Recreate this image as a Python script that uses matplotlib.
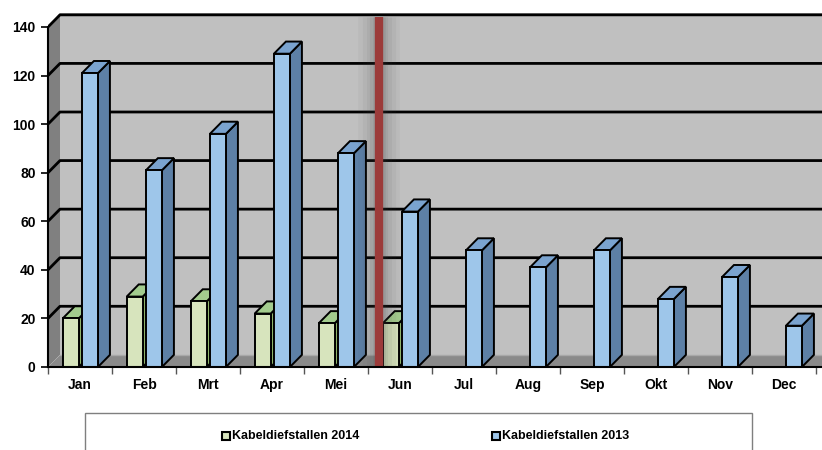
import matplotlib.pyplot as plt
from matplotlib.patches import Polygon, Rectangle

# --- data ---
months = ['Jan', 'Feb', 'Mrt', 'Apr', 'Mei', 'Jun', 'Jul', 'Aug', 'Sep', 'Okt', 'Nov', 'Dec']
diefstal_2014 = [20, 29, 27, 22, 18, 18]
diefstal_2013 = [121, 81, 96, 129, 88, 64, 48, 41, 48, 28, 37, 17]
y_ticks = [0, 20, 40, 60, 80, 100, 120, 140]
series_labels = ['Kabeldiefstallen 2014', 'Kabeldiefstallen 2013']

plt.rcParams['font.family'] = ['Liberation Sans Narrow', 'Liberation Sans', 'DejaVu Sans']

W, H = 822, 450
fig = plt.figure(figsize=(W / 100, H / 100), dpi=100)

# axes: left edge at pixel 48, zero line at 367, wall top at 13
x_right = (822 - 48) / 64
y_top = 140 + 14 / 2.43
ax = fig.add_axes([48 / W, 83 / H, (W - 48) / W, (437 - 83) / H])
ax.set_xlim(0, x_right)
ax.set_ylim(0, y_top)

dx, dy = 0.1875, 5.0  # 3d depth offset

# walls and floor
ax.add_patch(Polygon([(dx, dy), (x_right, dy), (x_right, y_top), (dx, y_top)],
                     closed=True, fc='#c0c0c0', ec='none', zorder=1))
ax.add_patch(Polygon([(0, 0), (dx, dy), (dx, y_top), (0, 140)],
                     closed=True, fc='#808080', ec='none', zorder=1))
ax.add_patch(Polygon([(0, 0), (x_right, 0), (x_right, dy), (dx, dy)],
                     closed=True, fc='#8a8a8a', ec='none', zorder=1))
ax.plot([dx, x_right], [dy, dy], color='#a8a8a8', lw=1, zorder=1.5)

for v in y_ticks[1:]:
    ax.plot([0, dx, x_right], [v, v + dy, v + dy], color='black', lw=2,
            zorder=2, solid_capstyle='butt')


def bar3d(x0, w, h, front, side, top):
    ax.add_patch(Polygon([(x0 + w, 0), (x0 + w + dx, dy), (x0 + w + dx, h + dy), (x0 + w, h)],
                         closed=True, fc=side, ec='black', lw=1.4, zorder=3))
    ax.add_patch(Polygon([(x0, h), (x0 + dx, h + dy), (x0 + w + dx, h + dy), (x0 + w, h)],
                         closed=True, fc=top, ec='black', lw=1.4, zorder=3))
    ax.add_patch(Rectangle((x0, 0), w, h, fc=front, ec='black', lw=1.4, zorder=3))


bw = 0.25
for i, v in enumerate(diefstal_2014):
    bar3d(i + 0.23, bw, v, '#d7e4bd', '#8fb46a', '#a3cc8e')
for i, v in enumerate(diefstal_2013):
    bar3d(i + 0.53, bw, v, '#9ec6ea', '#5d80a6', '#7aa3cf')

# red marker line with soft shadow
x_line = (379 - 48) / 64
for lw, a in [(30, 0.04), (24, 0.05), (18, 0.06), (13, 0.08), (9, 0.1)]:
    ax.plot([x_line, x_line], [0, 144], color='#404040', lw=lw, alpha=a,
            zorder=4, solid_capstyle='butt')
ax.plot([x_line, x_line], [0, 144], color='#9c3b3a', lw=6, zorder=5,
        solid_capstyle='butt')

# axes styling
for s in ['top', 'right']:
    ax.spines[s].set_visible(False)
ax.spines['left'].set_bounds(0, 140)
ax.spines['left'].set_linewidth(1.5)
ax.spines['bottom'].set_linewidth(1.5)
ax.spines['left'].set_zorder(6)
ax.spines['bottom'].set_zorder(6)

ax.set_yticks(y_ticks)
ax.set_yticklabels([str(v) for v in y_ticks], fontsize=10, fontweight='bold')
ax.tick_params(axis='y', length=5, width=1.2, pad=4)

ax.set_xticks([i + 0.5 for i in range(len(months))])
ax.set_xticklabels(months, fontsize=10, fontweight='bold')
ax.set_xticks(range(13), minor=True)
ax.tick_params(axis='x', which='major', length=0, pad=8)
ax.tick_params(axis='x', which='minor', length=5, width=1, color='#555555')

# legend box
fig.patches.append(Rectangle((85 / W, -0.05), (752 - 85) / W, (0.05 + 37 / H),
                             transform=fig.transFigure, fc='white', ec='#7f7f7f', lw=1))
leg_y = 14 / H
for xp, lab, col in [(222, series_labels[0], '#d7e4bd'), (492, series_labels[1], '#9ec6ea')]:
    fig.patches.append(Rectangle((xp / W, leg_y - 4 / H), 8 / W, 8 / H,
                                 transform=fig.transFigure, fc=col, ec='black', lw=1.5))
    fig.text((xp + 10) / W, leg_y, lab, fontsize=9, fontweight='bold', va='center', ha='left')

fig.savefig('out.png', dpi=100)
